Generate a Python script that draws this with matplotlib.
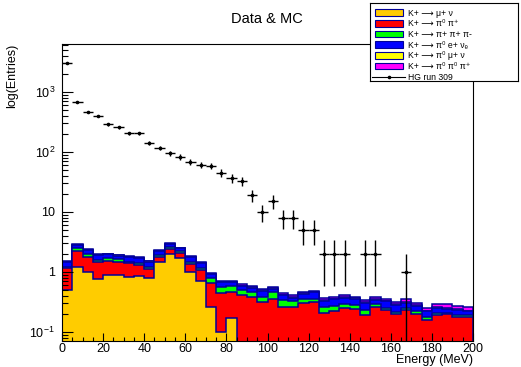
import numpy as np
import matplotlib
matplotlib.use("Agg")
import matplotlib.pyplot as plt
from matplotlib.patches import Rectangle
from matplotlib.ticker import FixedLocator, FixedFormatter, MultipleLocator

plt.rcParams['font.family'] = ['Liberation Sans', 'DejaVu Sans']
plt.rcParams['mathtext.fontset'] = 'custom'
plt.rcParams['mathtext.rm'] = 'Liberation Sans'
plt.rcParams['mathtext.it'] = 'Liberation Sans:italic'
plt.rcParams['mathtext.default'] = 'regular'

# 40 bins of 5 MeV, 0..200 MeV
edges = np.linspace(0, 200, 41)

# MC components (stacked, bottom to top)
k_mu2 = [0.50, 1.22, 1.01, 0.76, 0.89, 0.89, 0.84, 0.87, 0.79, 1.49,
         1.97, 1.73, 0.99, 0.71, 0.264, 0.10, 0.17, 0, 0, 0,
         0, 0, 0, 0, 0, 0, 0, 0, 0, 0,
         0, 0, 0, 0, 0, 0, 0, 0, 0, 0]
k_pi2 = [0.65, 1.02, 0.79, 0.69, 0.63, 0.60, 0.56, 0.44, 0.32, 0.31,
         0.42, 0.37, 0.37, 0.37, 0.39, 0.35, 0.30, 0.41, 0.39, 0.32,
         0.36, 0.26, 0.26, 0.31, 0.32, 0.21, 0.22, 0.25, 0.245, 0.19,
         0.26, 0.23, 0.20, 0.235, 0.20, 0.16, 0.195, 0.20, 0.175, 0.18]
k_3pi = [0.05, 0.24, 0.20, 0.15, 0.17, 0.14, 0.07, 0.09, 0.09, 0.12,
         0.19, 0.14, 0.13, 0.10, 0.14, 0.11, 0.11, 0.09, 0.08, 0.06,
         0.10, 0.08, 0.07, 0.05, 0.04, 0.055, 0.055, 0.045, 0.04, 0.045,
         0.035, 0.025, 0.015, 0.015, 0.025, 0.015, 0.015, 0.01, 0.02, 0.01]
k_e3 = [0.25, 0.34, 0.33, 0.32, 0.28, 0.24, 0.31, 0.29, 0.29, 0.32,
        0.32, 0.24, 0.27, 0.22, 0.13, 0.12, 0.10, 0.085, 0.08, 0.11,
        0.065, 0.07, 0.045, 0.075, 0.10, 0.065, 0.075, 0.08, 0.07, 0.075,
        0.05, 0.07, 0.065, 0.06, 0.045, 0.045, 0.04, 0.035, 0.035, 0.03]
k_mu3 = [0.03, 0.05, 0.04, 0.03, 0.03, 0.04, 0.03, 0.03, 0.02, 0.03,
         0.04, 0.03, 0.03, 0.02, 0.015, 0.012, 0.012, 0.01, 0.01, 0.01,
         0.012, 0.01, 0.008, 0.01, 0.01, 0.008, 0.01, 0.01, 0.008, 0.008,
         0.01, 0.008, 0.008, 0.01, 0.008, 0.008, 0.008, 0.008, 0.008, 0.008]
k_tau = [0.03, 0.05, 0.04, 0.03, 0.03, 0.04, 0.03, 0.03, 0.03, 0.04,
         0.05, 0.04, 0.03, 0.03, 0.02, 0.02, 0.025, 0.025, 0.025, 0.025,
         0.025, 0.03, 0.03, 0.025, 0.02, 0.03, 0.03, 0.03, 0.02, 0.02,
         0.03, 0.02, 0.03, 0.03, 0.025, 0.025, 0.03, 0.035, 0.03, 0.03]

# data counts
data = [3000, 670, 460, 400, 290, 260, 205, 205, 143, 117,
        95, 82, 69, 61, 59, 45, 37, 33, 19, 10,
        15, 8, 8, 5, 5, 2, 2, 2, 0, 2,
        2, 0, 0, 1, 0, 0, 0, 0, 0, 0]

labels = ['K+ ⟶ μ+ ν',
          'K+ ⟶ π⁰ π⁺',
          'K+ ⟶ π+ π+ π-',
          'K+ ⟶ π⁰ e+ νₑ',
          'K+ ⟶ π⁰ μ+ ν',
          'K+ ⟶ π⁰ π⁰ π⁺',
          'HG run 309']
colors = ['#ffcc00', '#ff0000', '#00ff00', '#0000ff', '#ffff00', '#ff00ff']
line_col = '#000099'

fig = plt.figure(figsize=(5.21, 3.67), dpi=100)
ax = fig.add_axes([62 / 521, 26 / 367, 411 / 521, 297 / 367])

comps = [k_mu2, k_pi2, k_3pi, k_e3, k_mu3, k_tau]
cum = np.cumsum(np.array(comps, dtype=float), axis=0)
low = 1e-3
for i in range(len(comps) - 1, -1, -1):
    vals = np.where(cum[i] > 0, cum[i], low)
    ax.stairs(vals, edges, baseline=low, fill=True, color=colors[i], lw=0)
    ax.stairs(vals, edges, baseline=low, fill=False, color=line_col, lw=1.1)

d = np.array(data, dtype=float)
centers = 0.5 * (edges[:-1] + edges[1:])
m = d > 0
err = np.sqrt(d[m])
lo = np.minimum(err, d[m] * 0.9999)
ax.errorbar(centers[m], d[m], xerr=2.5, yerr=[lo, err], fmt='o', ms=1.6,
            color='black', elinewidth=1.0, capsize=0, zorder=5)

ax.set_yscale('log')
ax.set_xlim(0, 200)
ax.set_ylim(0.0708, 6300)

ax.xaxis.set_major_locator(MultipleLocator(20))
ax.xaxis.set_minor_locator(MultipleLocator(5))
ax.yaxis.set_major_locator(FixedLocator([0.1, 1, 10, 100, 1000]))
ax.yaxis.set_major_formatter(FixedFormatter(['$10^{-1}$', '1', '10', '$10^{2}$', '$10^{3}$']))
minors = [k * 10.0 ** e for e in range(-2, 4) for k in range(2, 10)]
ax.yaxis.set_minor_locator(FixedLocator(minors))
ax.yaxis.set_minor_formatter(FixedFormatter([''] * len(minors)))

ax.tick_params(axis='x', which='major', direction='in', length=5.8, width=0.8, labelsize=9, pad=1.5)
ax.tick_params(axis='x', which='minor', direction='in', length=2.9, width=0.8)
ax.tick_params(axis='y', which='major', direction='in', length=8, width=0.8, labelsize=9, pad=5)
ax.tick_params(axis='y', which='minor', direction='in', length=4, width=0.8)
for s in ax.spines.values():
    s.set_linewidth(0.8)

ax.set_xlabel('Energy (MeV)', fontsize=9, loc='right')
ax.xaxis.set_label_coords(1.0, -0.063)
ax.xaxis.label.set_va('center')
ax.set_ylabel('log(Entries)', fontsize=9, loc='top')
ax.yaxis.set_label_coords(-0.107, 1.0)

fig.text(267 / 521, 1 - 19 / 367, 'Data & MC', fontsize=10.5, ha='center', va='center')

# legend box, entries laid out on a fixed row grid
leg_ax = fig.add_axes([370 / 521, 1 - 81 / 367, 148 / 521, 78 / 367])
leg_ax.set_xlim(0, 148)
leg_ax.set_ylim(78, 0)
leg_ax.set_xticks([])
leg_ax.set_yticks([])
for s in leg_ax.spines.values():
    s.set_linewidth(0.8)
row0, drow = 9.6, 10.67
for i, lab in enumerate(labels):
    yc = row0 + i * drow
    if i < len(colors):
        leg_ax.add_patch(Rectangle((5, yc - 3.4), 28, 6.8, facecolor=colors[i],
                                   edgecolor=line_col, lw=0.8))
    else:
        leg_ax.plot([2, 35], [yc, yc], color='black', lw=0.8)
        leg_ax.plot([18.5], [yc], 'o', color='black', ms=1.6)
    leg_ax.text(38, yc + 3.0, lab, fontsize=6.2, va='baseline', ha='left')

fig.savefig('out.png', dpi=100)
